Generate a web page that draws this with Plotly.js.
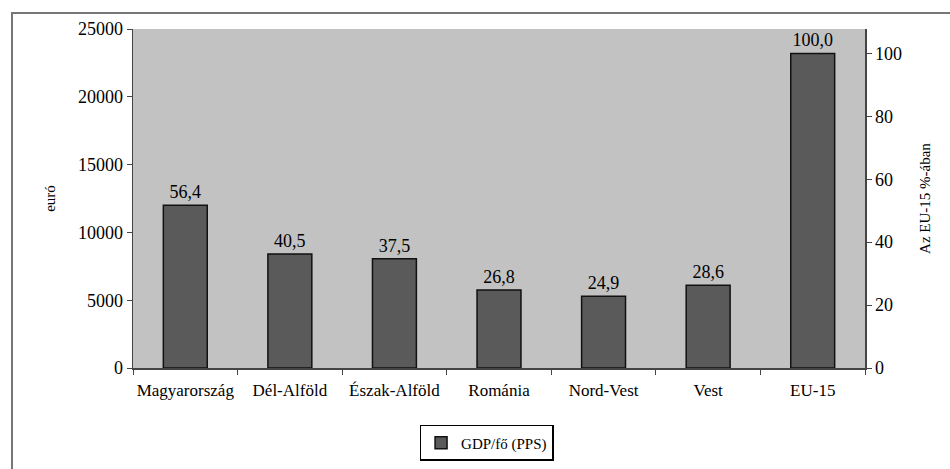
<!DOCTYPE html>
<html>
<head>
<meta charset="utf-8">
<script src="https://cdn.plot.ly/plotly-3.0.1.min.js"></script>
<style>html,body{margin:0;padding:0;background:#fff;}#chart{width:950px;height:469px;}</style>
</head>
<body>
<div id="chart"></div>
<script>
// Data
const categories = ["Magyarország", "Dél-Alföld", "Észak-Alföld", "Románia", "Nord-Vest", "Vest", "EU-15"];
const gdpEuro = [12000, 8400, 8050, 5750, 5300, 6100, 23200];   // bar heights, euro (left axis)
const gdpPercent = [56.4, 40.5, 37.5, 26.8, 24.9, 28.6, 100.0]; // labels, % of EU-15 (right axis)
const leftTicks = [0, 5000, 10000, 15000, 20000, 25000];
const rightTicks = [0, 20, 40, 60, 80, 100];

const fontFam = "'Liberation Serif', 'DejaVu Serif', serif";
const labels = gdpPercent.map(v => v.toFixed(1).replace('.', ','));
const euMax = 25000;
const pctMax = euMax / gdpEuro[gdpEuro.length - 1] * gdpPercent[gdpPercent.length - 1];

const traces = [
  {
    type: 'bar',
    name: 'GDP/fő (PPS)',
    x: categories,
    y: gdpEuro,
    text: labels,
    textposition: 'outside',
    cliponaxis: false,
    textfont: {family: fontFam, size: 18, color: '#000'},
    marker: {color: '#5a5a5a', line: {color: '#111', width: 1.5}},
    hoverinfo: 'skip'
  },
  {
    type: 'scatter',
    mode: 'none',
    x: categories,
    y: gdpPercent,
    yaxis: 'y2',
    showlegend: false,
    hoverinfo: 'skip'
  }
];

const layout = {
  width: 950,
  height: 469,
  margin: {l: 133, r: 85, t: 29, b: 101, autoexpand: false},
  paper_bgcolor: '#ffffff',
  plot_bgcolor: '#c2c2c2',
  font: {family: fontFam, size: 17, color: '#000'},
  bargap: 0.58,
  showlegend: true,
  legend: {
    orientation: 'h',
    x: 0.483, xanchor: 'center',
    y: -0.168, yanchor: 'top',
    bordercolor: '#000', borderwidth: 1.5,
    bgcolor: '#fff',
    font: {family: fontFam, size: 15, color: '#000'}
  },
  xaxis: {
    type: 'category',
    automargin: false,
    tickangle: 0,
    ticklabelstandoff: 6,
    showline: true, linecolor: '#444', linewidth: 1.5,
    ticks: 'outside', ticklen: 5, tickcolor: '#444',
    tickson: 'boundaries',
    showgrid: false,
    tickfont: {family: fontFam, size: 17, color: '#000'}
  },
  yaxis: {
    range: [0, euMax],
    automargin: false,
    tickvals: leftTicks,
    ticktext: leftTicks.map(String),
    showline: true, linecolor: '#444', linewidth: 1.5,
    ticks: 'outside', ticklen: 5, tickcolor: '#444',
    showgrid: false, zeroline: false,
    tickfont: {family: fontFam, size: 18, color: '#000'},
    title: {text: 'euró', font: {family: fontFam, size: 15, color: '#000'}, standoff: 18}
  },
  yaxis2: {
    overlaying: 'y',
    side: 'right',
    automargin: false,
    range: [0, pctMax],
    tickvals: rightTicks,
    ticktext: rightTicks.map(String),
    showline: true, linecolor: '#444', linewidth: 1.5,
    ticks: 'outside', ticklen: 5, tickcolor: '#444',
    showgrid: false, zeroline: false,
    tickfont: {family: fontFam, size: 18, color: '#000'},
    title: {text: 'Az EU-15 %-ában', font: {family: fontFam, size: 15, color: '#000'}, standoff: 18}
  },
  shapes: [
    {
      type: 'rect', xref: 'paper', yref: 'paper',
      x0: -0.1653, x1: 1.2, y0: -0.4, y1: 1.0472,
      line: {color: '#777', width: 2}, fillcolor: 'rgba(0,0,0,0)', layer: 'below'
    }
  ]
};

Plotly.newPlot('chart', traces, layout, {displayModeBar: false, staticPlot: true});
</script>
</body>
</html>
